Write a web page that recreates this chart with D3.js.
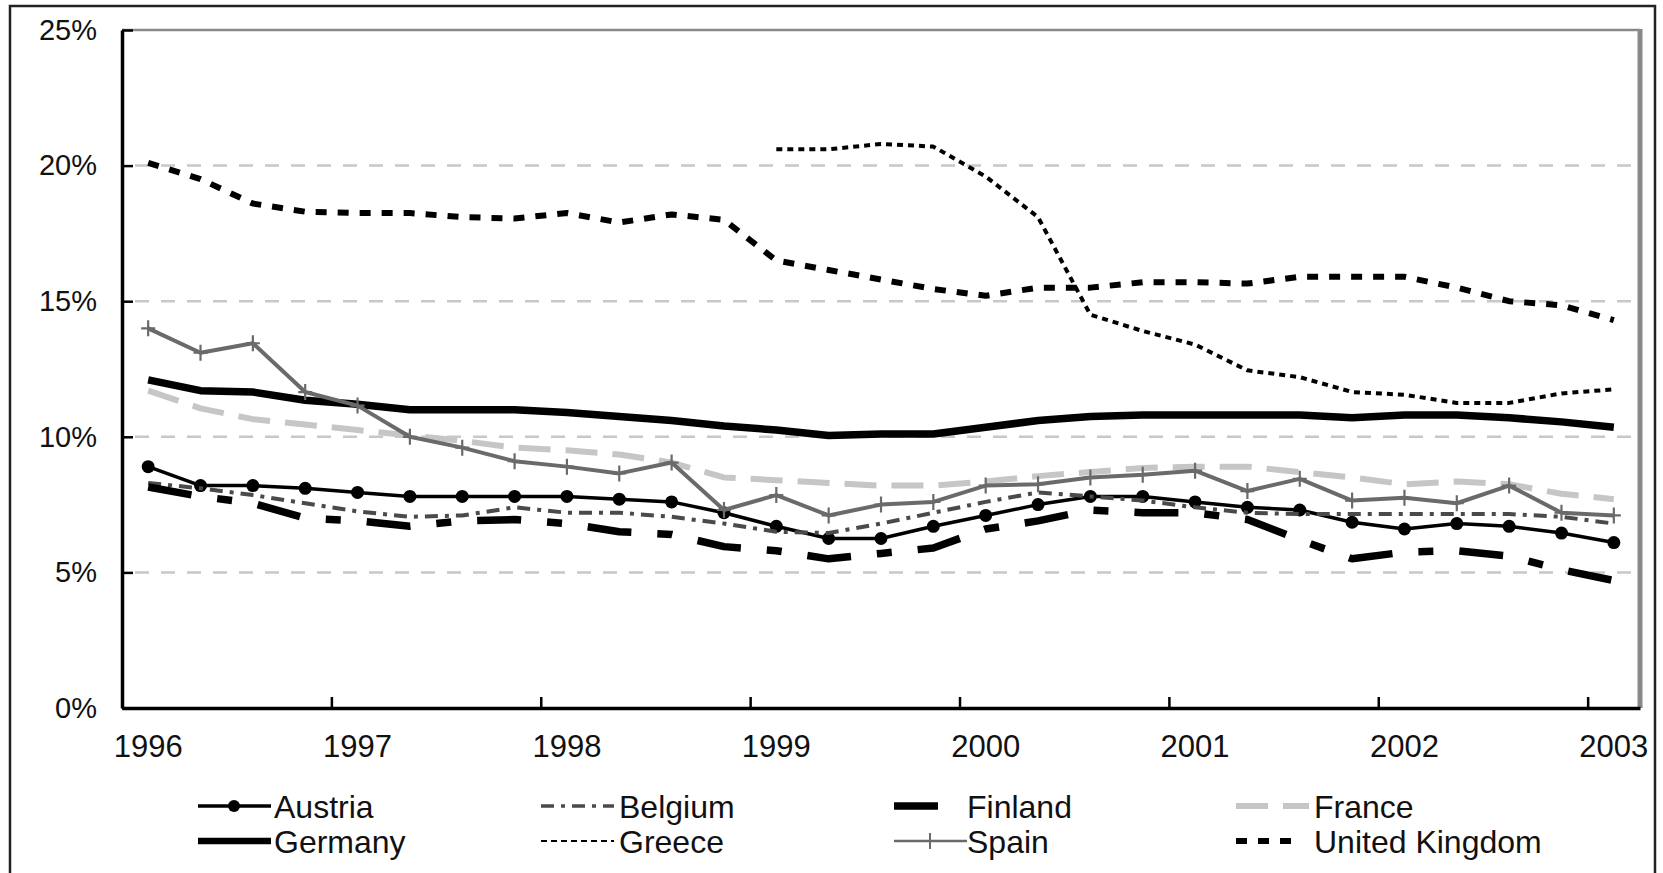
<!DOCTYPE html>
<html>
<head>
<meta charset="utf-8">
<script src="https://cdn.jsdelivr.net/npm/d3@7"></script>
<style>
  body { margin: 0; background: #fff; }
  text { font-family: "Liberation Sans", Arial, sans-serif; fill: #111; }
</style>
</head>
<body>
<script>
var quarters = ["1996Q1","1996Q2","1996Q3","1996Q4","1997Q1","1997Q2","1997Q3","1997Q4",
  "1998Q1","1998Q2","1998Q3","1998Q4","1999Q1","1999Q2","1999Q3","1999Q4",
  "2000Q1","2000Q2","2000Q3","2000Q4","2001Q1","2001Q2","2001Q3","2001Q4",
  "2002Q1","2002Q2","2002Q3","2002Q4","2003Q1"];
var yearLabels = ["1996Q1","1997Q1","1998Q1","1999Q1","2000Q1","2001Q1","2002Q1","2003Q1"];
var yTicks = [0, 5, 10, 15, 20, 25];

var austria = [8.9, 8.2, 8.2, 8.1, 7.95, 7.8, 7.8, 7.8, 7.8, 7.7, 7.6, 7.2, 6.7, 6.25, 6.25, 6.7, 7.1, 7.5, 7.8, 7.8, 7.6, 7.4, 7.3, 6.85, 6.6, 6.8, 6.7, 6.45, 6.1];
var belgium = [8.3, 8.1, 7.85, 7.55, 7.25, 7.05, 7.1, 7.4, 7.2, 7.2, 7.05, 6.8, 6.5, 6.45, 6.8, 7.2, 7.6, 7.95, 7.8, 7.65, 7.4, 7.2, 7.15, 7.15, 7.15, 7.15, 7.15, 7.05, 6.8];
var finland = [8.15, 7.8, 7.55, 7.0, 6.9, 6.7, 6.9, 6.95, 6.8, 6.5, 6.4, 5.95, 5.8, 5.5, 5.7, 5.9, 6.6, 6.9, 7.3, 7.2, 7.2, 6.95, 6.2, 5.5, 5.75, 5.8, 5.6, 5.1, 4.7];
var france = [11.7, 11.05, 10.65, 10.45, 10.25, 10.05, 9.85, 9.6, 9.5, 9.35, 9.05, 8.5, 8.4, 8.3, 8.2, 8.2, 8.35, 8.55, 8.7, 8.85, 8.9, 8.9, 8.7, 8.5, 8.25, 8.35, 8.25, 7.9, 7.7];
var germany = [12.1, 11.7, 11.65, 11.35, 11.2, 11.0, 11.0, 11.0, 10.9, 10.75, 10.6, 10.4, 10.25, 10.05, 10.1, 10.1, 10.35, 10.6, 10.75, 10.8, 10.8, 10.8, 10.8, 10.7, 10.8, 10.8, 10.7, 10.55, 10.35];
var greece = [null, null, null, null, null, null, null, null, null, null, null, null, 20.6, 20.6, 20.8, 20.7, 19.6, 18.1, 14.5, 13.9, 13.4, 12.45, 12.2, 11.65, 11.55, 11.25, 11.25, 11.6, 11.75];
var spain = [14.0, 13.1, 13.45, 11.65, 11.15, 10.0, 9.6, 9.1, 8.9, 8.65, 9.05, 7.3, 7.85, 7.1, 7.5, 7.6, 8.2, 8.25, 8.5, 8.6, 8.75, 8.0, 8.45, 7.65, 7.75, 7.55, 8.2, 7.2, 7.1];
var uk = [20.1, 19.5, 18.6, 18.3, 18.25, 18.25, 18.1, 18.05, 18.25, 17.9, 18.2, 18.0, 16.5, 16.15, 15.8, 15.45, 15.2, 15.5, 15.5, 15.7, 15.7, 15.65, 15.9, 15.9, 15.9, 15.5, 15.0, 14.85, 14.3];

var series = [
  {name: "Austria", values: austria, color: "#000", width: 3.5, dash: null, marker: "dot", legW: 3.5, legLen: 73},
  {name: "Belgium", values: belgium, color: "#4a4a4a", width: 4, dash: "13,7,4,7", marker: null, legW: 3.5, legLen: 73},
  {name: "Finland", values: finland, color: "#000", width: 7.5, dash: "44,26,15,26", marker: null, legW: 7.5, legLen: 50},
  {name: "France", values: france, color: "#c6c6c6", width: 6, dash: "32,15", marker: null, legW: 6, legLen: 73},
  {name: "Germany", values: germany, color: "#000", width: 7.5, dash: null, marker: null, legW: 6.5, legLen: 73},
  {name: "Greece", values: greece, color: "#000", width: 4, dash: "6,5", marker: null, legW: 2, legLen: 73},
  {name: "Spain", values: spain, color: "#6a6a6a", width: 4, dash: null, marker: "plus", legW: 2.5, legLen: 73},
  {name: "United Kingdom", values: uk, color: "#000", width: 6, dash: "11,11", marker: null, legW: 6, legLen: 62}
];

var W = 1663, H = 873;
var pLeft = 122, pRight = 1640, pTop = 30, pBottom = 708;

var svg = d3.select("body").append("svg")
  .attr("width", W)
  .attr("height", H);

// outer frame
svg.append("rect")
  .attr("x", 10).attr("y", 6)
  .attr("width", 1645).attr("height", 900)
  .attr("fill", "none")
  .attr("stroke", "#222")
  .attr("stroke-width", 2.5);

var x = d3.scaleBand().domain(quarters).range([pLeft, pRight]);
var xi = d3.scaleLinear().domain([0, quarters.length]).range([pLeft, pRight]);
var y = d3.scaleLinear().domain([0, 25]).range([pBottom, pTop]);
var cx = function(i){ return x(quarters[i]) + x.bandwidth() / 2; };

// gridlines
svg.append("g").selectAll("line")
  .data([5, 10, 15, 20])
  .enter().append("line")
  .attr("x1", pLeft + 13).attr("x2", pRight - 3)
  .attr("y1", function(d){ return y(d); })
  .attr("y2", function(d){ return y(d); })
  .attr("stroke", "#c8c8c8")
  .attr("stroke-width", 2.5)
  .attr("stroke-dasharray", "14,12");

// plot border top/right (grey)
svg.append("line")
  .attr("x1", pLeft).attr("x2", pRight)
  .attr("y1", pTop).attr("y2", pTop)
  .attr("stroke", "#8a8a8a").attr("stroke-width", 2.5);
svg.append("line")
  .attr("x1", pRight).attr("x2", pRight)
  .attr("y1", pTop - 1).attr("y2", pBottom)
  .attr("stroke", "#8a8a8a").attr("stroke-width", 5);

// series
var line = d3.line()
  .defined(function(d){ return d != null; })
  .x(function(d, i){ return cx(i); })
  .y(function(d){ return y(d); });

series.forEach(function(s){
  svg.append("path")
    .datum(s.values)
    .attr("d", line)
    .attr("fill", "none")
    .attr("stroke", s.color)
    .attr("stroke-width", s.width)
    .attr("stroke-dasharray", s.dash)
    .attr("stroke-linejoin", "round");

  var pts = s.values.map(function(v, i){ return {i: i, v: v}; })
    .filter(function(p){ return p.v != null; });
  if (s.marker == "dot") {
    svg.append("g").selectAll("circle")
      .data(pts).enter().append("circle")
      .attr("cx", function(p){ return cx(p.i); })
      .attr("cy", function(p){ return y(p.v); })
      .attr("r", 6.5)
      .attr("fill", s.color);
  }
  if (s.marker == "plus") {
    svg.append("g").selectAll("path")
      .data(pts).enter().append("path")
      .attr("transform", function(p){ return "translate(" + cx(p.i) + "," + y(p.v) + ")"; })
      .attr("d", "M-7,0H7M0,-8V8")
      .attr("stroke", s.color)
      .attr("stroke-width", 2.2);
  }
});

// y axis
var yAxis = svg.append("g")
  .attr("transform", "translate(" + pLeft + ",0)")
  .call(d3.axisLeft(y).tickValues(yTicks)
    .tickFormat(function(d){ return d + "%"; })
    .tickSizeInner(-11).tickSizeOuter(0).tickPadding(25));
yAxis.select(".domain").attr("stroke", "#000").attr("stroke-width", 3.5);
yAxis.selectAll(".tick line").attr("stroke", "#000").attr("stroke-width", 2.5);
yAxis.selectAll(".tick text")
  .style("font-size", "29px")
  .style("font-family", "'Liberation Sans', Arial, sans-serif")
  .attr("fill", "#111");

// x axis tick marks (between years)
var xTickAxis = svg.append("g")
  .attr("transform", "translate(0," + pBottom + ")")
  .call(d3.axisBottom(xi).tickValues([4, 8, 12, 16, 20, 24, 28])
    .tickFormat("").tickSizeInner(-11).tickSizeOuter(0));
xTickAxis.select(".domain").attr("stroke", "#000").attr("stroke-width", 3.5);
xTickAxis.selectAll(".tick line").attr("stroke", "#000").attr("stroke-width", 2.5);

// x axis labels
var xAxis = svg.append("g")
  .attr("transform", "translate(0," + pBottom + ")")
  .call(d3.axisBottom(x).tickValues(yearLabels)
    .tickFormat(function(q){ return q.slice(0, 4); })
    .tickSize(0).tickPadding(27));
xAxis.select(".domain").remove();
xAxis.selectAll(".tick text")
  .style("font-size", "31px")
  .style("font-family", "'Liberation Sans', Arial, sans-serif")
  .attr("fill", "#111");

// legend
var legX = [198, 541, 894, 1236];
var legTextX = [274, 619, 967, 1314];
var legY = [806, 841];
series.forEach(function(s, k){
  var col = k % 4, row = Math.floor(k / 4);
  var x0 = legX[col], x1 = x0 + s.legLen, yy = legY[row];
  var g = svg.append("g");
  g.append("line")
    .attr("x1", x0).attr("x2", x1)
    .attr("y1", yy).attr("y2", yy)
    .attr("stroke", s.color)
    .attr("stroke-width", s.legW)
    .attr("stroke-dasharray", s.name == "Greece" ? "6,4" : s.dash);
  var mid = x0 + 36;
  if (s.marker == "dot") {
    g.append("circle").attr("cx", mid).attr("cy", yy).attr("r", 6).attr("fill", s.color);
  }
  if (s.marker == "plus") {
    g.append("path")
      .attr("transform", "translate(" + mid + "," + yy + ")")
      .attr("d", "M-7,0H7M0,-8V8")
      .attr("stroke", s.color).attr("stroke-width", 2);
  }
  g.append("text")
    .attr("x", legTextX[col])
    .attr("y", yy)
    .attr("dy", "0.36em")
    .style("font-size", "32px")
    .text(s.name);
});
</script>
</body>
</html>
